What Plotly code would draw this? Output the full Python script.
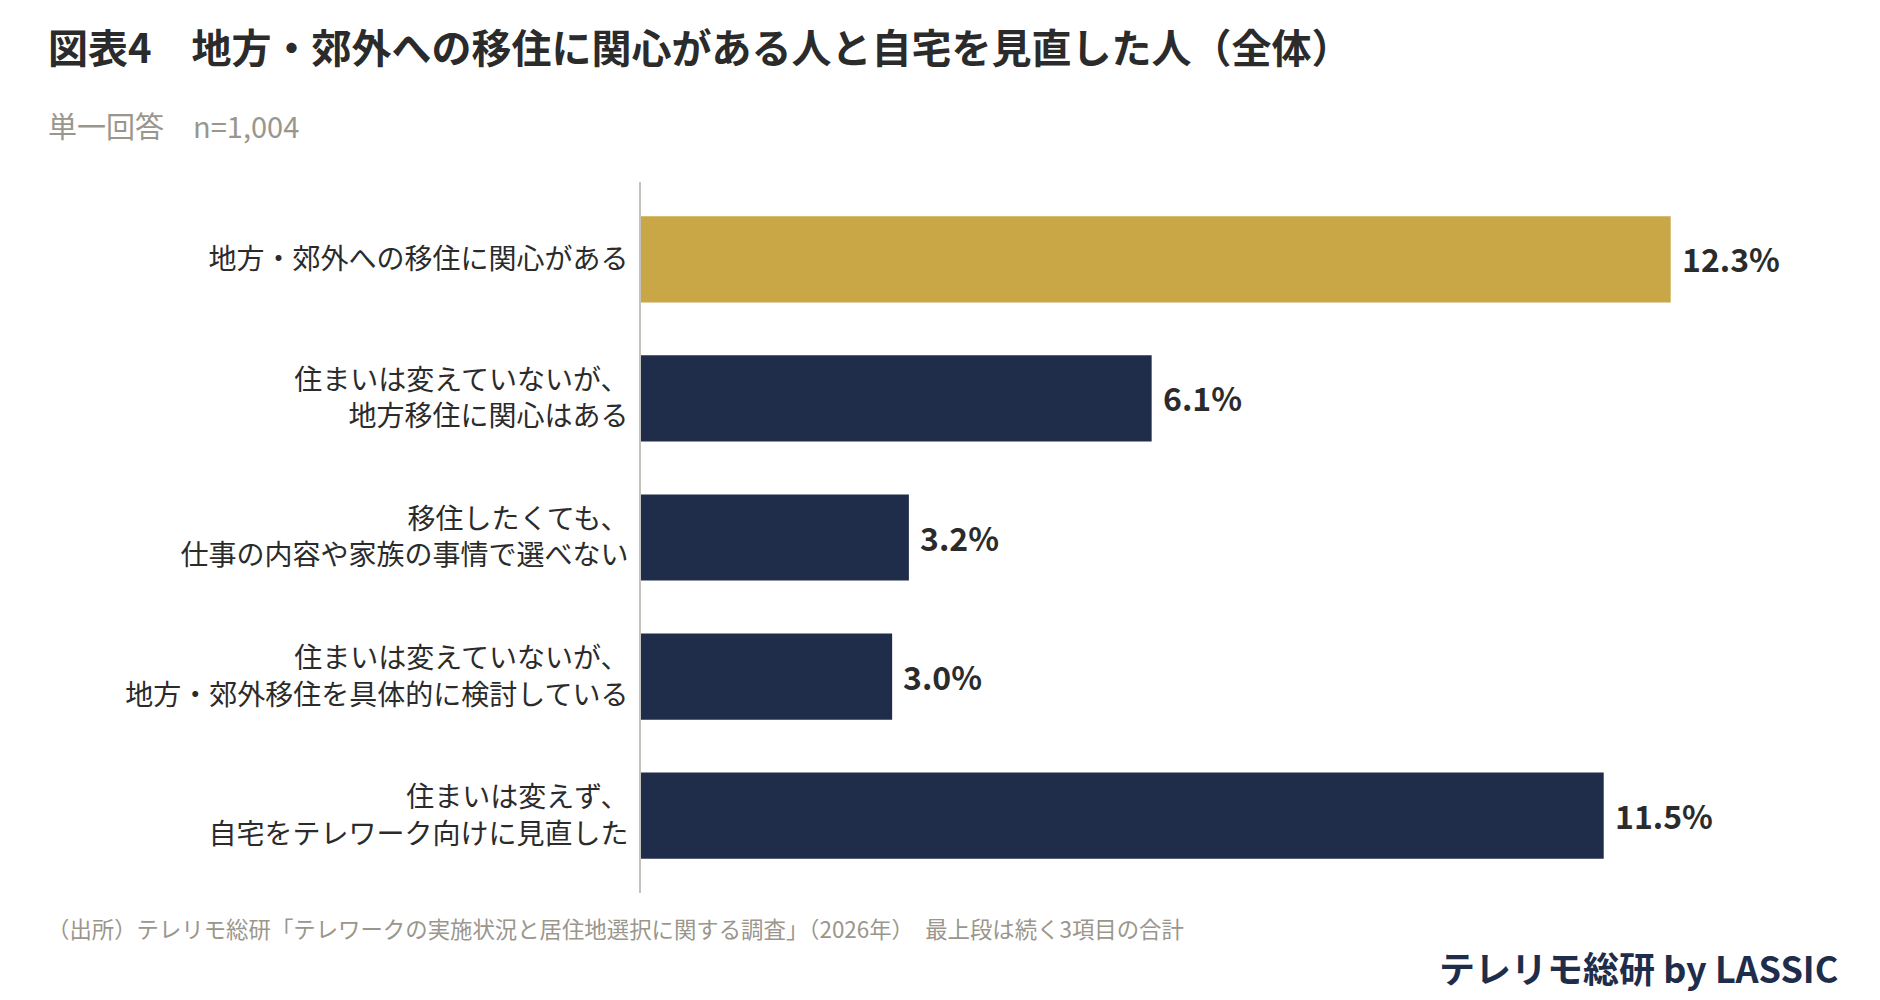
import plotly.graph_objects as go

# values
categories = [
    "地方・郊外への移住に関心がある",
    "住まいは変えていないが、<br>地方移住に関心はある",
    "移住したくても、<br>仕事の内容や家族の事情で選べない",
    "住まいは変えていないが、<br>地方・郊外移住を具体的に検討している",
    "住まいは変えず、<br>自宅をテレワーク向けに見直した",
]
values = [12.3, 6.1, 3.2, 3.0, 11.5]
value_labels = ["12.3%", "6.1%", "3.2%", "3.0%", "11.5%"]

GOLD = "#C9A746"
NAVY = "#1F2D4A"
TEXT = "#2B2B2B"
GRAY = "#9A968C"
FONT = "Noto Sans CJK JP"

bar_colors = [GOLD] + [NAVY] * (len(values) - 1)

# page body adds an 8px margin, so the figure is a bit smaller than the window
W, H = 1872, 992
L, R, T, B = 633, 67, 174, 107
pw, ph = W - L - R, H - T - B


def px_x(px):
    return (px - L) / pw


def px_y(py):
    return (H - B - py) / ph


fig = go.Figure()
fig.add_trace(go.Bar(
    x=values,
    y=categories,
    orientation="h",
    marker=dict(color=bar_colors, line=dict(width=0)),
    width=0.62,
    hoverinfo="skip",
))

# value labels at the end of each bar
for cat, v, lab in zip(categories, values, value_labels):
    fig.add_annotation(
        x=v, y=cat, text=lab, showarrow=False,
        xanchor="left", yanchor="middle", xshift=9, yshift=1,
        font=dict(family=FONT, size=32, color=TEXT, weight=700),
    )

# title, subtitle, footer, brand
fig.add_annotation(
    xref="paper", yref="paper", x=px_x(38), y=px_y(38),
    text="図表4　地方・郊外への移住に関心がある人と自宅を見直した人（全体）",
    showarrow=False, xanchor="left", yanchor="middle",
    font=dict(family=FONT, size=40, color=TEXT, weight=700),
)
fig.add_annotation(
    xref="paper", yref="paper", x=px_x(38), y=px_y(117),
    text="単一回答　n=1,004",
    showarrow=False, xanchor="left", yanchor="middle",
    font=dict(family=FONT, size=29, color=GRAY),
)
fig.add_annotation(
    xref="paper", yref="paper", x=px_x(37), y=px_y(920),
    text="（出所）テレリモ総研「テレワークの実施状況と居住地選択に関する調査」（2026年）　最上段は続く3項目の合計",
    showarrow=False, xanchor="left", yanchor="middle",
    font=dict(family=FONT, size=22.4, color=GRAY),
)
fig.add_annotation(
    xref="paper", yref="paper", x=px_x(1832), y=px_y(959),
    text="テレリモ総研 by LASSIC",
    showarrow=False, xanchor="right", yanchor="middle",
    font=dict(family=FONT, size=36, color=NAVY, weight=700),
)

fig.update_layout(
    width=W, height=H,
    margin=dict(l=L, r=R, t=T, b=B, autoexpand=False),
    paper_bgcolor="white",
    plot_bgcolor="white",
    showlegend=False,
    xaxis=dict(
        range=[0, 14], showgrid=False, zeroline=False,
        showticklabels=False, showline=False, fixedrange=True,
    ),
    yaxis=dict(
        categoryorder="array", categoryarray=categories,
        range=[len(categories) - 1 + 0.557, -0.557],
        showgrid=False, zeroline=False,
        showline=True, linecolor="#C4C2BC", linewidth=2,
        ticks="", ticklabelstandoff=5,
        tickfont=dict(family=FONT, size=28, color=TEXT),
        fixedrange=True,
    ),
)

fig.write_html("out.html")
